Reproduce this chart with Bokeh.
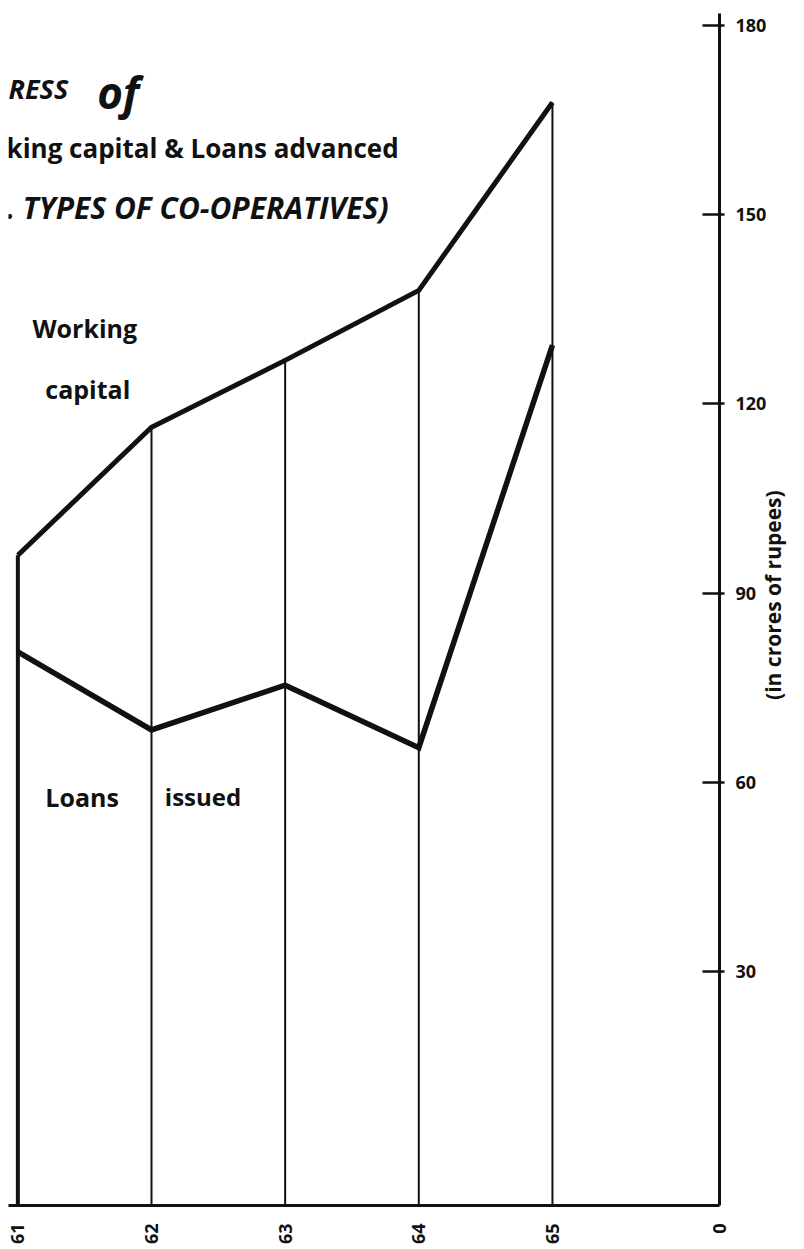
import math
from bokeh.plotting import figure
from bokeh.models import Range1d, LinearAxis, FixedTicker, Label
from bokeh.embed import file_html
from bokeh.resources import INLINE

# ---- data ----
years = [61, 62, 63, 64, 65]
year_labels = ["61", "62", "63", "64", "65"]
working_capital = [96.0, 116.3, 126.9, 138.0, 167.8]   # crores of rupees
loans_issued = [80.7, 68.3, 75.4, 65.5, 129.3]          # crores of rupees
y_ticks = [30, 60, 90, 120, 150, 180]
zero_label = "0"
value_axis_title = "(in crores of rupees)"

# ---- layout ----
W, H = 804, 1247
LEFT, TOP, RIGHT, BOTTOM = 8, 13, 82, 41
X0, X1 = 60.93, 66.25
Y0, Y1 = -7.1, 181.9
FONT = "Open Sans"
INK = "#111111"

FW = W - LEFT - RIGHT
FH = H - TOP - BOTTOM

def dx(px):
    return X0 + (px - LEFT) / FW * (X1 - X0)

def dy(py):
    return Y0 + (TOP + FH - py) / FH * (Y1 - Y0)

p = figure(width=W, height=H, output_backend="svg", toolbar_location=None,
           x_range=Range1d(X0, X1), y_range=Range1d(Y0, Y1),
           x_axis_location=None, y_axis_location=None,
           min_border_left=LEFT, min_border_top=TOP, min_border_right=RIGHT,
           min_border_bottom=BOTTOM)
p.outline_line_color = None
p.xgrid.visible = False
p.ygrid.visible = False
p.background_fill_color = "white"
p.border_fill_color = "white"

# right value axis
yaxis = LinearAxis(ticker=FixedTicker(ticks=y_ticks))
yaxis.axis_line_width = 3
yaxis.axis_line_color = INK
yaxis.major_tick_in = 17
yaxis.major_tick_out = 5
yaxis.major_tick_line_width = 2.5
yaxis.major_tick_line_color = INK
yaxis.minor_tick_line_color = None
yaxis.major_label_text_font = FONT
yaxis.major_label_text_font_style = "bold"
yaxis.major_label_text_font_size = "18px"
yaxis.major_label_text_color = INK
yaxis.major_label_standoff = 11
p.add_layout(yaxis, "right")

# axis title, carried as the single label of a bare second right axis so
# that it reads bottom-to-top and starts where the reference puts it
title_pos = dy(700)
title_axis = LinearAxis(ticker=FixedTicker(ticks=[title_pos]),
                        major_label_overrides={title_pos: value_axis_title})
title_axis.axis_line_color = None
title_axis.major_tick_line_color = None
title_axis.minor_tick_line_color = None
title_axis.major_tick_in = 0
title_axis.major_tick_out = 0
title_axis.major_label_orientation = math.pi / 2
title_axis.major_label_text_font = FONT
title_axis.major_label_text_font_style = "bold"
title_axis.major_label_text_font_size = "21px"
title_axis.major_label_text_color = INK
title_axis.major_label_standoff = 4
p.add_layout(title_axis, "right")

# bottom year axis
overrides = {yr: lab for yr, lab in zip(years, year_labels)}
overrides[X1] = zero_label
xaxis = LinearAxis(ticker=FixedTicker(ticks=years + [X1]),
                   major_label_overrides=overrides)
xaxis.axis_line_width = 3
xaxis.axis_line_color = INK
xaxis.major_tick_line_color = None
xaxis.minor_tick_line_color = None
xaxis.major_label_orientation = math.pi / 2
xaxis.major_label_text_font = FONT
xaxis.major_label_text_font_style = "bold"
xaxis.major_label_text_font_size = "18px"
xaxis.major_label_text_color = INK
xaxis.major_label_standoff = 12
p.add_layout(xaxis, "below")

# vertical drop lines from baseline to working capital
p.segment(x0=years, y0=[Y0] * len(years), x1=years, y1=working_capital,
          line_width=[4] + [2] * (len(years) - 1), line_color=INK)

# series lines
p.line(years, working_capital, line_width=5, line_color=INK, line_join="miter")
p.line(years, loans_issued, line_width=5.5, line_color=INK, line_join="miter")

def txt(s, px, py, size, style="bold", align="left", angle=0.0):
    p.add_layout(Label(x=dx(px), y=dy(py), text=s, text_font=FONT,
                       text_font_style=style, text_font_size=f"{size}px",
                       text_color=INK, text_align=align,
                       text_baseline="middle", angle=angle))

txt("RESS", 8, 88, 27, "bold italic")
txt("of", 97, 92, 44, "bold italic")
txt("king capital & Loans advanced", 6, 148, 26)
txt(". TYPES OF CO-OPERATIVES)", 6, 207, 30, "bold italic")
txt("Working", 32, 328, 25)
txt("capital", 45, 389, 25)
txt("Loans", 45, 797, 25)
txt("issued", 165, 797, 24)

open("out.html", "w").write(file_html(p, INLINE))
